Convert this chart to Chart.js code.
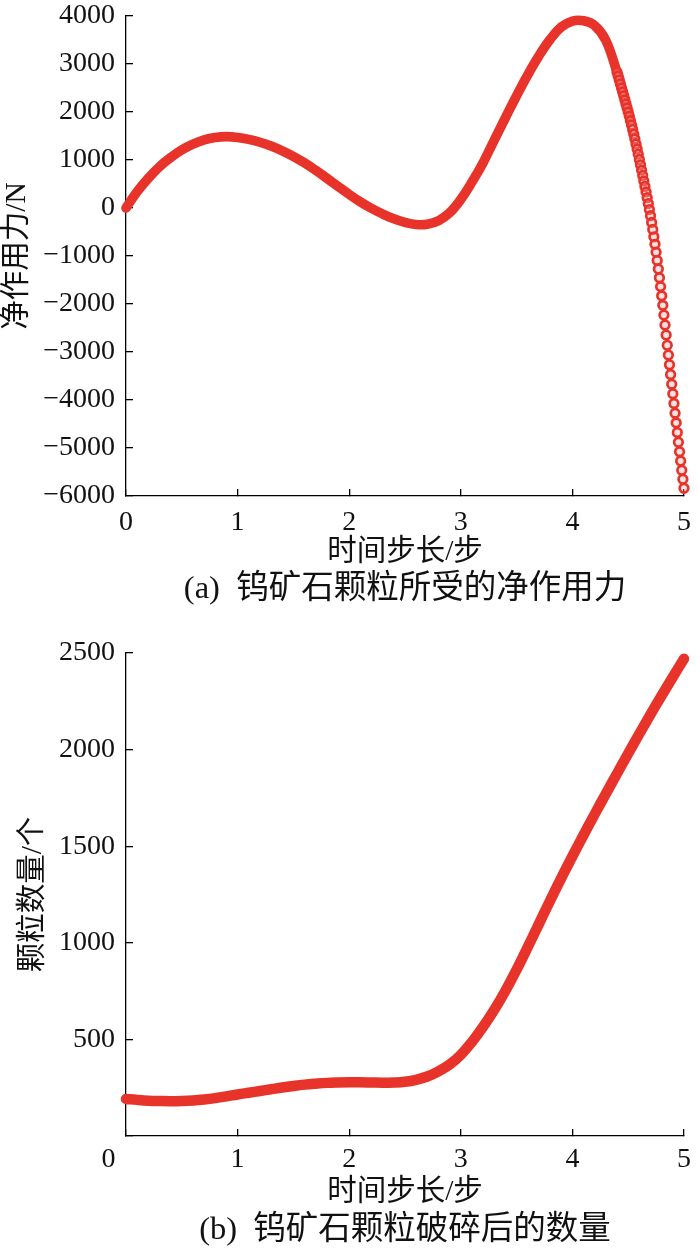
<!DOCTYPE html>
<html lang="zh">
<head>
<meta charset="utf-8">
<title>钨矿石颗粒净作用力与破碎数量</title>
<script src="https://cdn.jsdelivr.net/npm/chart.js@4.4.1/dist/chart.umd.min.js"></script>
<style>
  html, body { margin: 0; padding: 0; background: #fff; }
  .box { position: relative; width: 700px; }
  #boxForce { height: 620px; }
  #boxCount { height: 632px; }
</style>
</head>
<body>
<div class="box" id="boxForce"><canvas id="forceChart"></canvas></div>
<div class="box" id="boxCount"><canvas id="countChart"></canvas></div>
<script>
// (a) net force, coarse part (smooth section)
const forceTimeCoarse = [0, 0.1, 0.2, 0.3, 0.4, 0.5, 0.6, 0.7, 0.8, 0.9,
    1.0, 1.1, 1.2, 1.3, 1.4, 1.5, 1.6, 1.7, 1.8, 1.9,
    2.0, 2.1, 2.2, 2.3, 2.4, 2.5, 2.6, 2.7, 2.8, 2.9,
    3.0, 3.1, 3.2, 3.3, 3.4, 3.5, 3.6, 3.7, 3.8, 3.9,
    4.0, 4.1, 4.2, 4.3];
const forceCoarse = [0, 340, 620, 860, 1050, 1210, 1330, 1420, 1470, 1486,
    1470, 1430, 1370, 1290, 1190, 1075, 940, 785, 620, 450,
    283, 128, -8, -125, -225, -300, -345, -340, -265, -100,
    180, 540, 945, 1415, 1880, 2340, 2775, 3170, 3510, 3770,
    3895, 3900, 3800, 3490];

// (a) net force, fine part (steep drop, markers visible)
const forceTimeFine = [4.40, 4.41, 4.42, 4.43, 4.44, 4.45, 4.46, 4.47, 4.48, 4.49,
    4.50, 4.51, 4.52, 4.53, 4.54, 4.55, 4.56, 4.57, 4.58, 4.59,
    4.60, 4.61, 4.62, 4.63, 4.64, 4.65, 4.66, 4.67, 4.68, 4.69,
    4.70, 4.71, 4.72, 4.73, 4.74, 4.75, 4.76, 4.77, 4.78, 4.79,
    4.80, 4.81, 4.82, 4.83, 4.84, 4.85, 4.86, 4.87, 4.88, 4.89,
    4.90, 4.91, 4.92, 4.93, 4.94, 4.95, 4.96, 4.97, 4.98, 4.99, 5.00];
const forceFine = [2830, 2748, 2666, 2584, 2502, 2420, 2337, 2253, 2169, 2084,
    1998, 1910, 1820, 1728, 1634, 1538, 1438, 1335, 1229, 1121,
    1010, 900, 789, 677, 564, 450, 334, 215, 93, -32,
    -160, -300, -448, -600, -756, -920, -1092, -1270, -1452, -1638,
    -1830, -2028, -2230, -2436, -2646, -2860, -3064, -3267, -3469, -3670,
    -3870, -4072, -4274, -4476, -4678, -4880, -5076, -5270, -5462, -5652, -5840];

// (b) particle count after breakage
const countTime = [0, 0.1, 0.2, 0.3, 0.4, 0.5, 0.6, 0.7, 0.8, 0.9,
    1.0, 1.1, 1.2, 1.3, 1.4, 1.5, 1.6, 1.7, 1.8, 1.9,
    2.0, 2.1, 2.2, 2.3, 2.4, 2.5, 2.6, 2.7, 2.8, 2.9,
    3.0, 3.1, 3.2, 3.3, 3.4, 3.5, 3.6, 3.7, 3.8, 3.9,
    4.0, 4.1, 4.2, 4.3, 4.4, 4.5, 4.6, 4.7, 4.8, 4.9, 5.0];
const countValues = [192, 187, 183, 181, 180, 181, 184, 189, 196, 205,
    215, 224, 233, 242, 251, 259, 266, 271, 275, 277,
    278, 278, 277, 276, 277, 281, 291, 308, 335, 370,
    420, 487, 565, 653, 752, 861, 978, 1098, 1218, 1335,
    1448, 1558, 1666, 1772, 1876, 1980, 2082, 2182, 2280, 2376, 2470];

// tick labels
const timeTicks = [0, 1, 2, 3, 4, 5];
const forceTicks = [-6000, -5000, -4000, -3000, -2000, -1000, 0, 1000, 2000, 3000, 4000];
const countTicks = [0, 500, 1000, 1500, 2000, 2500];

const RED = '#e8332b';
const RING_FROM = 4.4;   // markers drawn from here on
const THICK_TO = 4.52;   // thick line drawn up to here

Chart.defaults.font.family = '"Liberation Serif", "Noto Sans CJK SC", serif';
Chart.defaults.font.size = 28;
Chart.defaults.color = '#111';

function pairs(xs, ys) {
    return xs.map((x, i) => ({ x: x, y: ys[i] }));
}

function minusSign(v) {
    return String(v).replace('-', '\u2212');
}

// label overhang is handled by layout padding, not by the scales
function noScalePadding(s) {
    s.paddingLeft = 0;
    s.paddingRight = 0;
    s.paddingTop = 0;
    s.paddingBottom = 0;
}

function xAxis(tickPad, fmt) {
    return {
        type: 'linear',
        min: 0,
        max: 5,
        afterBuildTicks: s => { s.ticks = timeTicks.map(v => ({ value: v })); },
        afterFit: s => { s.height = 74; noScalePadding(s); },
        border: { display: true, color: '#000', width: 1.3 },
        grid: { drawOnChartArea: false, drawTicks: true, tickLength: -7, color: '#000', lineWidth: 1.3 },
        ticks: { padding: tickPad, maxRotation: 0, autoSkip: false, callback: fmt },
        title: { display: true, text: '时间步长/步', font: { size: 29.5 }, padding: { top: 0, bottom: 0 } }
    };
}

function yAxis(min, max, ticks, label, titlePad, fmt) {
    return {
        type: 'linear',
        min: min,
        max: max,
        afterBuildTicks: s => { s.ticks = ticks.map(v => ({ value: v })); },
        afterFit: s => { s.width = 126; noScalePadding(s); },
        border: { display: true, color: '#000', width: 1.3 },
        grid: { drawOnChartArea: false, drawTicks: true, tickLength: -7, color: '#000', lineWidth: 1.3 },
        ticks: { padding: 18, autoSkip: false, callback: fmt },
        title: { display: true, text: label, font: { size: 29.5 }, padding: { top: titlePad, bottom: 0 } }
    };
}

function caption(text, padTop) {
    return {
        display: true,
        position: 'bottom',
        fullSize: false,
        text: text,
        color: '#111',
        font: { size: 32.5, weight: 'normal' },
        padding: { top: padTop, bottom: 0 }
    };
}

// Chart (a)
new Chart(document.getElementById('forceChart'), {
    type: 'line',
    data: {
        datasets: [{
            data: pairs(forceTimeCoarse.concat(forceTimeFine), forceCoarse.concat(forceFine)),
            borderColor: RED,
            borderWidth: 9.6,
            borderCapStyle: 'round',
            borderJoinStyle: 'round',
            tension: 0.4,
            pointRadius: ctx => (ctx.raw && ctx.raw.x >= RING_FROM ? 4.3 : 0),
            pointBorderWidth: 2.7,
            pointBorderColor: RED,
            pointBackgroundColor: 'rgba(245,170,165,0.35)',
            segment: {
                borderColor: ctx => (ctx.p0.parsed.x >= THICK_TO ? 'rgba(0,0,0,0)' : undefined)
            },
            clip: false
        }]
    },
    options: {
        responsive: true,
        maintainAspectRatio: false,
        animation: false,
        events: [],
        layout: { padding: { top: 16, right: 16, bottom: 11, left: 0 } },
        scales: {
            x: xAxis(17, v => String(v)),
            y: yAxis(-6000, 4000, forceTicks, '净作用力/N', 0, v => minusSign(v))
        },
        plugins: {
            legend: { display: false },
            tooltip: { enabled: false },
            title: caption('(a)  钨矿石颗粒所受的净作用力', 0)
        }
    }
});

// Chart (b)
new Chart(document.getElementById('countChart'), {
    type: 'line',
    data: {
        datasets: [{
            data: pairs(countTime, countValues),
            borderColor: RED,
            borderWidth: 10.5,
            borderCapStyle: 'round',
            borderJoinStyle: 'round',
            tension: 0.4,
            pointRadius: 0,
            clip: false
        }]
    },
    options: {
        responsive: true,
        maintainAspectRatio: false,
        animation: false,
        events: [],
        layout: { padding: { top: 33, right: 16, bottom: 2.5, left: 0 } },
        scales: {
            // the "0" of this axis sits a little left of the corner, as in the original
            x: xAxis(14, v => (v === 0 ? '0     ' : String(v))),
            y: yAxis(0, 2500, countTicks, '颗粒数量/个', 16, v => (v === 0 ? '' : String(v)))
        },
        plugins: {
            legend: { display: false },
            tooltip: { enabled: false },
            title: caption('(b)  钨矿石颗粒破碎后的数量', 0.5)
        }
    }
});
</script>
</body>
</html>
